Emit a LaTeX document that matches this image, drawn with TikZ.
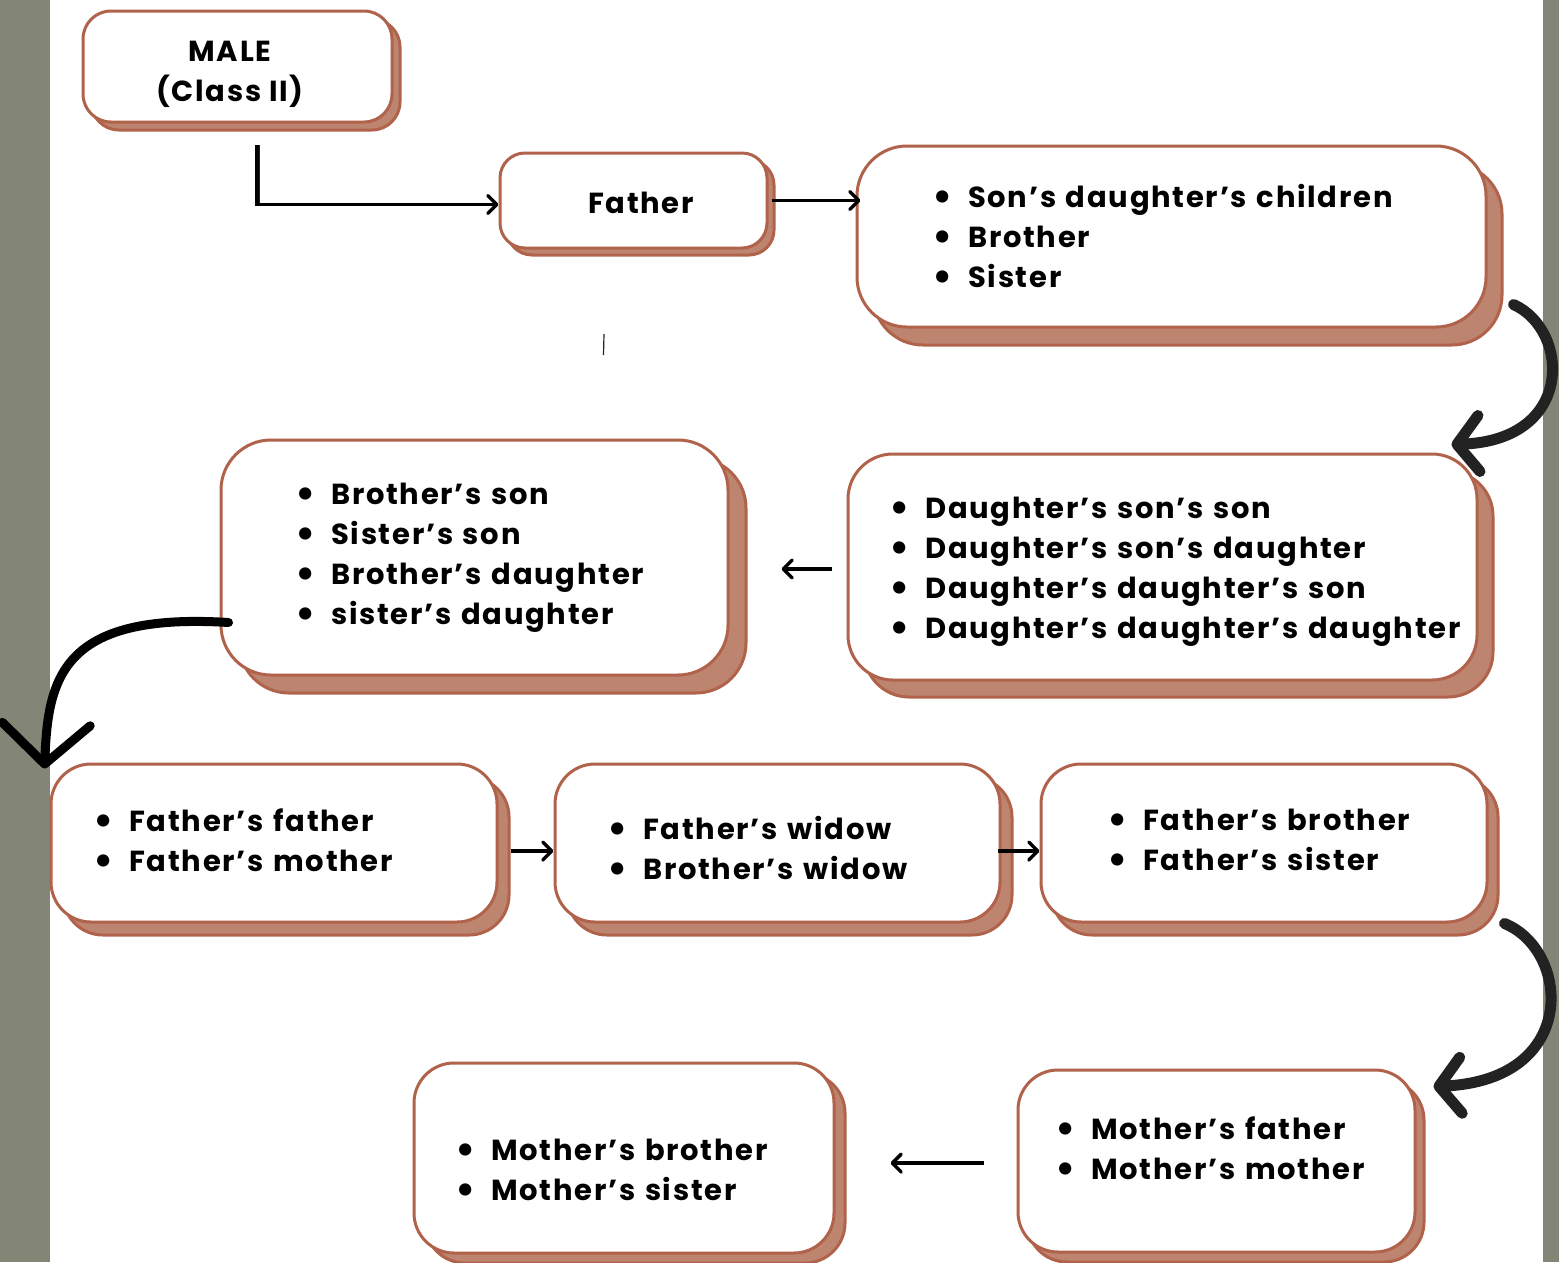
\documentclass[tikz,border=0pt]{standalone}
\usepackage{fontspec}
\setmainfont{Poppins}[LetterSpace=6]
\usetikzlibrary{arrows.meta,shadows}
\definecolor{sidegray}{HTML}{838676}
\definecolor{edgebrown}{HTML}{B0624A}
\definecolor{shadebrown}{HTML}{BD846F}
\definecolor{inkgray}{HTML}{222222}
\tikzset{
  kinbox/.style 2 args={draw=edgebrown, line width=3pt, fill=white, inner sep=0pt,
    drop shadow={shadow xshift=#1, shadow yshift=-#2, fill=shadebrown, draw=edgebrown, line width=3pt, opacity=1}},
  kinlist/.style={anchor=base west, inner sep=0pt, text width=660pt, align=left},
  flow/.style={line width=3.5pt, -{Straight Barb[length=9pt,width=18pt,round]}},
  curvearrow/.style={inkgray, line width=11pt, line cap=round, -{Straight Barb[length=22pt,width=56pt,round]}},
}
\newcommand{\kinitem}[1]{\makebox[30pt][l]{\hspace{-6pt}\raisebox{-3pt}{\scalebox{1.4}{\textbullet}}}#1}
\begin{document}
\begin{tikzpicture}[x=1pt,y=-1pt, every node/.style={font=\fontsize{29}{40}\selectfont\bfseries}]
\useasboundingbox (0,0) rectangle (1559,1262);
\fill[sidegray] (0,0) rectangle (1559,1262);
\fill[white] (50,0) rectangle (1543,1262);

% boxes
\node[kinbox={8pt}{8pt}, rounded corners=28pt, minimum width=309pt, minimum height=111pt] (male) at (237.5,66.5) {};
\node[kinbox={7pt}{7pt}, rounded corners=25pt, minimum width=267pt, minimum height=95pt] (father) at (633.5,200.5) {};
\node[kinbox={16pt}{18pt}, rounded corners=50pt, minimum width=629pt, minimum height=181pt] (sdc) at (1171.5,236.5) {};
\node[kinbox={18pt}{18pt}, rounded corners=50pt, minimum width=507pt, minimum height=235pt] (bson) at (474.5,557.5) {};
\node[kinbox={16pt}{17pt}, rounded corners=45pt, minimum width=629pt, minimum height=226pt] (dss) at (1162.5,567) {};
\node[kinbox={12pt}{13pt}, rounded corners=40pt, minimum width=446pt, minimum height=158pt] (ff) at (274,843) {};
\node[kinbox={12pt}{13pt}, rounded corners=40pt, minimum width=445pt, minimum height=158pt] (fw) at (777.5,843) {};
\node[kinbox={11pt}{13pt}, rounded corners=40pt, minimum width=446pt, minimum height=158pt] (fb) at (1264,843) {};
\node[kinbox={11pt}{10pt}, rounded corners=40pt, minimum width=420pt, minimum height=190pt] (mb) at (624,1158) {};
\node[kinbox={9pt}{10pt}, rounded corners=40pt, minimum width=397pt, minimum height=182pt] (mf) at (1216.5,1161) {};

% texts
\node[align=center] (male-text) at (230,74) {MALE\\(Class II)};
\node (father-text) at (641,203) {Father};
\node[kinlist] (sdc-list) at (938,207.5) {\kinitem{Son’s daughter’s children}\\\kinitem{Brother}\\\kinitem{Sister}};
\node[kinlist] (bson-list) at (301,504.5) {\kinitem{Brother’s son}\\\kinitem{Sister’s son}\\\kinitem{Brother’s daughter}\\\kinitem{sister’s daughter}};
\node[kinlist] (dss-list) at (895,518.5) {\kinitem{Daughter’s son’s son}\\\kinitem{Daughter’s son’s daughter}\\\kinitem{Daughter’s daughter’s son}\\\kinitem{Daughter’s daughter’s daughter}};
\node[kinlist] (ff-list) at (99,831.5) {\kinitem{Father’s father}\\\kinitem{Father’s mother}};
\node[kinlist] (fw-list) at (613,839.5) {\kinitem{Father’s widow}\\\kinitem{Brother’s widow}};
\node[kinlist] (fb-list) at (1113,830.5) {\kinitem{Father’s brother}\\\kinitem{Father’s sister}};
\node[kinlist] (mb-list) at (461,1160.5) {\kinitem{Mother’s brother}\\\kinitem{Mother’s sister}};
\node[kinlist] (mf-list) at (1061,1139.5) {\kinitem{Mother’s father}\\\kinitem{Mother’s mother}};

% straight connectors
\coordinate (lstart) at (257,145);
\draw[inkgray, line width=5pt] (lstart) -- (257,206);
\draw[flow] (lstart) |- ([yshift=-4pt]father.west);
\draw[flow, shorten <=3pt, shorten >=-5pt] (father.east) -- (father.east -| sdc.west);
\draw[flow, shorten <=15pt, shorten >=52pt] ([yshift=-2pt]dss.west) -- ([yshift=-2pt]dss.west -| bson.east);
\draw[flow, shorten <=12pt] ([yshift=-8pt]ff.east) -- ([yshift=-8pt]fw.west);
\draw[flow, shorten <=-4pt] ([yshift=-8pt]fw.east) -- ([yshift=-8pt]fb.west);
\draw[flow, shorten <=33pt, shorten >=55pt] ([yshift=-2pt]mf.west) -- ([yshift=-2pt]mf.west -| mb.east);

% curved connectors
\draw[curvearrow] ([xshift=26pt,yshift=24pt]sdc.south east) .. controls (1570,330) and (1575,440) .. ([xshift=-27pt,yshift=8pt]dss.north east);
\draw[curvearrow, black, line width=9pt, -{Straight Barb[length=40pt,width=88pt,round]}] ([xshift=9pt,yshift=-65pt]bson.west) .. controls (60,612) and (48,680) .. ([xshift=-5pt,yshift=-6pt]ff.north west);
\draw[curvearrow] ([xshift=16pt]fb.south east) .. controls (1570,950) and (1580,1080) .. ([xshift=17pt,yshift=-18pt]mf.north east);

\draw[inkgray, line width=1.2pt] (604,334) -- (603.5,355);
\end{tikzpicture}
\end{document}
